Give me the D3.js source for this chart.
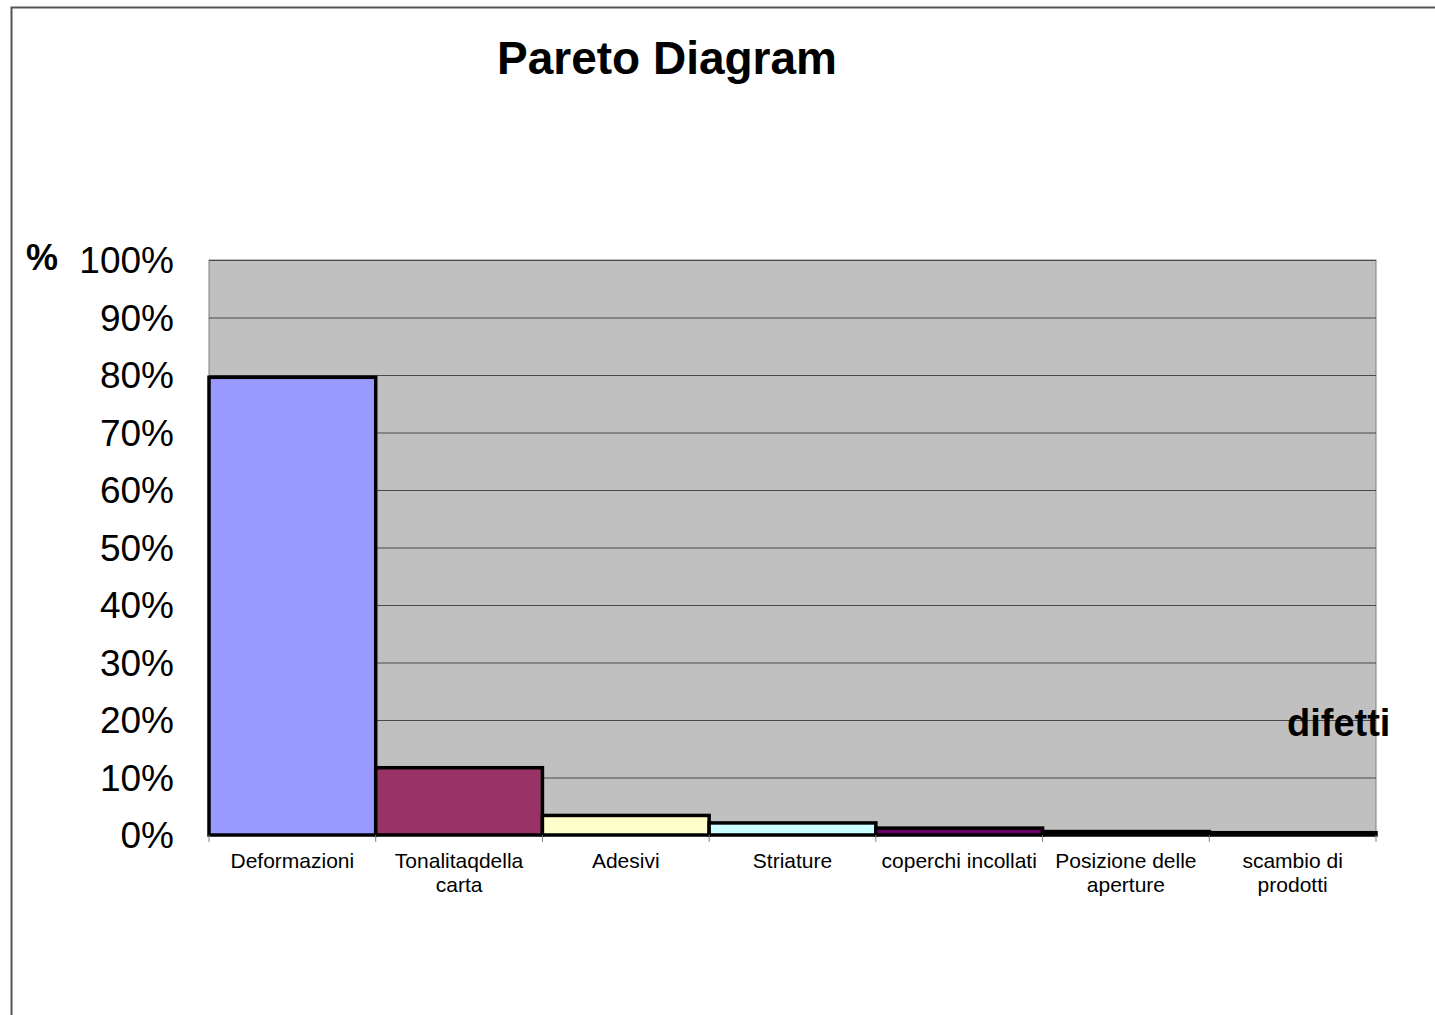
<!DOCTYPE html>
<html>
<head>
<meta charset="utf-8">
<script src="https://cdn.jsdelivr.net/npm/d3@7"></script>
<style>
  html, body { margin: 0; padding: 0; background: #fff; }
  svg { display: block; font-family: Arial, "Liberation Sans", sans-serif; }
</style>
</head>
<body>
<svg id="chart" width="1435" height="1015"></svg>
<script>
// Defect categories (label lines) and their share of total defects
const categories = [
  ["Deformazioni"],
  ["Tonalitaqdella", "carta"],
  ["Adesivi"],
  ["Striature"],
  ["coperchi incollati"],
  ["Posizione delle", "aperture"],
  ["scambio di", "prodotti"]
];
const shares = [0.796, 0.117, 0.034, 0.021, 0.012, 0.006, 0.004];
const barColors = ["#9999FF", "#993366", "#FFFFCC", "#CCFFFF", "#660066", "#FF8080", "#0066CC"];
const yTicks = [0, 0.1, 0.2, 0.3, 0.4, 0.5, 0.6, 0.7, 0.8, 0.9, 1.0];

const svg = d3.select("#chart");
const W = 1435, H = 1015;
const plot = { left: 209, right: 1376, top: 260, bottom: 835 };

// Outer chart frame (runs off the right and bottom edges)
svg.append("rect")
  .attr("x", 11.5).attr("y", 7.5)
  .attr("width", W + 20).attr("height", H + 20)
  .attr("fill", "#fff")
  .attr("stroke", "#555").attr("stroke-width", 2);

const ids = categories.map((c, i) => i);
const x = d3.scaleBand().domain(ids).range([plot.left, plot.right]).padding(0);
const y = d3.scaleLinear().domain([0, 1]).range([plot.bottom, plot.top]);

// Plot area background
svg.append("rect")
  .attr("x", plot.left).attr("y", plot.top)
  .attr("width", plot.right - plot.left).attr("height", plot.bottom - plot.top)
  .attr("fill", "#C0C0C0")
  .attr("stroke", "#808080").attr("stroke-width", 1);

// Horizontal gridlines
const grid = svg.append("g")
  .attr("transform", `translate(${plot.left},0)`)
  .call(d3.axisLeft(y).tickValues(yTicks).tickSize(-(plot.right - plot.left)).tickFormat(""));
grid.select(".domain").remove();
grid.selectAll(".tick line").attr("stroke", "#4a4a4a").attr("stroke-width", 1);
grid.selectAll(".tick").filter(d => d === 0).remove();

// Y axis labels
const yAxis = svg.append("g")
  .attr("transform", `translate(${plot.left - 35},0)`)
  .call(d3.axisLeft(y).tickValues(yTicks).tickSize(0).tickPadding(0).tickFormat(d3.format(".0%")));
yAxis.select(".domain").remove();
yAxis.selectAll("text")
  .attr("font-size", 37)
  .attr("font-family", "Arial, 'Liberation Sans', sans-serif")
  .attr("fill", "#000")
  .attr("dy", "0.34em");

// Bars
svg.append("g").selectAll("rect")
  .data(shares)
  .join("rect")
  .attr("x", (d, i) => x(i))
  .attr("y", d => y(d))
  .attr("width", x.bandwidth())
  .attr("height", d => y(0) - y(d))
  .attr("fill", (d, i) => barColors[i])
  .attr("stroke", "#000")
  .attr("stroke-width", 3.5);

// Category boundary tick marks
const bounds = ids.map(i => x(i)).concat([x(ids[ids.length - 1]) + x.bandwidth()]);
svg.append("g").selectAll("line")
  .data(bounds)
  .join("line")
  .attr("x1", d => d).attr("x2", d => d)
  .attr("y1", plot.bottom).attr("y2", plot.bottom + 7)
  .attr("stroke", "#808080").attr("stroke-width", 1);

// Category labels
const labels = svg.append("g").selectAll("text")
  .data(categories)
  .join("text")
  .attr("x", (d, i) => x(i) + x.bandwidth() / 2)
  .attr("y", 868)
  .attr("text-anchor", "middle")
  .attr("font-size", 21)
  .attr("fill", "#000");
labels.selectAll("tspan")
  .data(d => d)
  .join("tspan")
  .attr("x", function () { return d3.select(this.parentNode).attr("x"); })
  .attr("dy", (d, j) => j === 0 ? 0 : 23.5)
  .text(d => d);

// Title
svg.append("text")
  .attr("x", 667).attr("y", 74)
  .attr("text-anchor", "middle")
  .attr("font-size", 46).attr("font-weight", "bold")
  .text("Pareto Diagram");

// Axis titles
svg.append("text")
  .attr("x", 26).attr("y", 270)
  .attr("font-size", 36).attr("font-weight", "bold")
  .text("%");

svg.append("text")
  .attr("x", 1287).attr("y", 736)
  .attr("font-size", 38).attr("font-weight", "bold")
  .text("difetti");
</script>
</body>
</html>
